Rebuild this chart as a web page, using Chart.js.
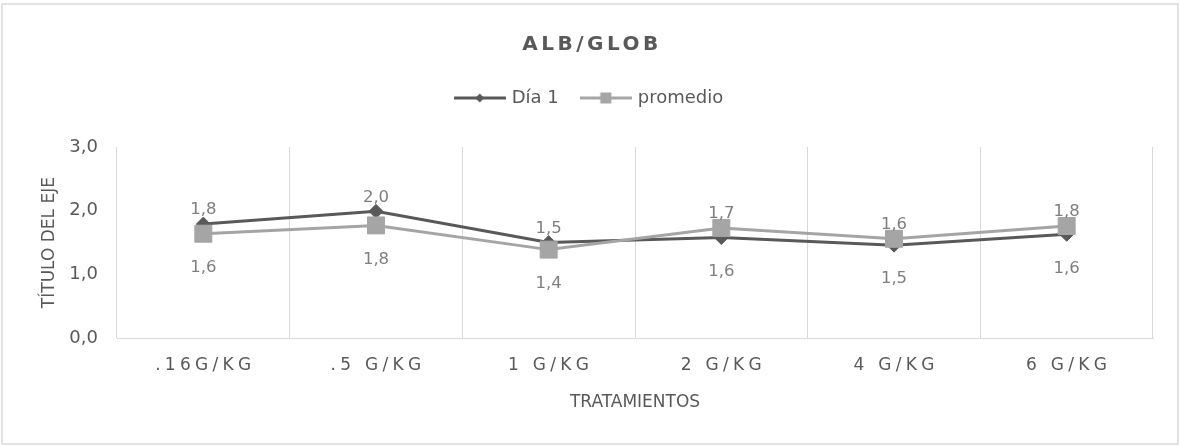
<!DOCTYPE html>
<html lang="es">
<head>
<meta charset="utf-8">
<title>ALB/GLOB</title>
<script src="https://cdn.jsdelivr.net/npm/chart.js@4.4.1/dist/chart.umd.min.js"></script>
<style>
  html, body { margin: 0; padding: 0; background: #ffffff; }
  #wrap { width: 1180px; height: 446px; position: relative; }
</style>
</head>
<body>
<div id="wrap"><canvas id="chart" width="1180" height="446"></canvas></div>
<script>
// Tratamientos (eje X)
const categories = ['.16G/KG', '.5 G/KG', '1 G/KG', '2 G/KG', '4 G/KG', '6 G/KG'];
// Relación albúmina/globulina
const dia1 = [1.79, 1.99, 1.50, 1.58, 1.46, 1.63];
const promedio = [1.64, 1.77, 1.39, 1.73, 1.56, 1.76];
const yTicks = [0, 1, 2, 3];

const FONT = '"DejaVu Sans", sans-serif';
const TEXT = '#595959';
const DARK = '#595959';
const LIGHT = '#a5a5a5';

const fmt = v => v.toFixed(1).replace('.', ',');

// Legend icons: a short line with the series marker in the middle
function legendIcon(color, shape) {
  const c = document.createElement('canvas');
  c.width = 52; c.height = 14;
  const g = c.getContext('2d');
  g.strokeStyle = color; g.fillStyle = color; g.lineWidth = 3;
  g.beginPath(); g.moveTo(0, 7); g.lineTo(52, 7); g.stroke();
  g.beginPath();
  if (shape === 'diamond') {
    g.moveTo(26, 2.5); g.lineTo(30.5, 7); g.lineTo(26, 11.5); g.lineTo(21.5, 7);
  } else {
    g.rect(20.5, 1.5, 11, 11);
  }
  g.closePath(); g.fill();
  return c;
}
const icons = [legendIcon(DARK, 'diamond'), legendIcon(LIGHT, 'square')];

const chartDecor = {
  id: 'chartDecor',
  beforeUpdate(chart) {
    const lg = chart.legend;
    if (lg && !lg._extraGap) {
      const fit = lg.fit;
      lg.fit = function () { fit.call(this); this.height += 30; };
      lg._extraGap = true;
    }
  },
  afterUpdate(chart) {
    const xs = chart.scales.x;
    if (xs && !xs._spaced) {
      const draw = xs.drawLabels;
      xs.drawLabels = function (area) {
        const c = this.ctx; c.save(); c.letterSpacing = '4.3px'; c.translate(2, 0);
        draw.call(this, area); c.restore();
      };
      xs._spaced = true;
    }
    const tb = chart.titleBlock;
    if (tb && !tb._spaced) {
      const draw = tb.draw;
      tb.draw = function () {
        const c = this.ctx; c.save(); c.letterSpacing = '3.5px'; c.translate(2, 0);
        draw.call(this); c.restore();
      };
      tb._spaced = true;
    }
  },
  beforeDraw(chart) {
    const c = chart.ctx;
    c.save();
    c.fillStyle = '#ffffff';
    c.fillRect(0, 0, chart.width, chart.height);
    c.strokeStyle = '#d9d9d9';
    c.lineWidth = 1.5;
    c.strokeRect(2, 4, 1176, 440);
    c.restore();
  },
  afterDatasetsDraw(chart) {
    const c = chart.ctx;
    const sets = chart.data.datasets;
    c.save();
    c.font = '16.5px ' + FONT;
    c.fillStyle = '#7f7f7f';
    c.textAlign = 'center';
    c.textBaseline = 'middle';
    sets.forEach((ds, i) => {
      const other = sets[1 - i];
      chart.getDatasetMeta(i).data.forEach((pt, j) => {
        const above = ds.data[j] >= other.data[j];
        c.fillText(fmt(ds.data[j]), pt.x, above ? pt.y - 14 : pt.y + 34);
      });
    });
    c.restore();
  }
};

new Chart(document.getElementById('chart'), {
  type: 'line',
  data: {
    labels: categories,
    datasets: [
      {
        label: 'Día 1',
        data: dia1,
        borderColor: DARK,
        backgroundColor: DARK,
        borderWidth: 3,
        pointStyle: 'rectRot',
        pointRadius: 7,
        pointBorderWidth: 1,
        tension: 0,
        order: 2
      },
      {
        label: 'promedio',
        data: promedio,
        borderColor: LIGHT,
        backgroundColor: LIGHT,
        borderWidth: 3,
        pointStyle: 'rect',
        pointRadius: 12,
        pointBorderWidth: 1,
        tension: 0,
        order: 1
      }
    ]
  },
  options: {
    responsive: false,
    animation: false,
    events: [],
    layout: { padding: { top: 4, left: 2, right: 2, bottom: 30 } },
    plugins: {
      tooltip: { enabled: false },
      title: {
        display: true,
        text: 'ALB/GLOB',
        color: TEXT,
        font: { family: FONT, size: 20, weight: 'bold' },
        padding: { top: 29, bottom: 8 }
      },
      legend: {
        display: true,
        position: 'top',
        labels: {
          usePointStyle: true,
          pointStyleWidth: 46,
          color: TEXT,
          font: { family: FONT, size: 18 },
          padding: 24,
          generateLabels(chart) {
            const items = Chart.defaults.plugins.legend.labels.generateLabels(chart);
            items.forEach(it => { it.pointStyle = icons[it.datasetIndex]; it.fontColor = TEXT; });
            return items.sort((a, b) => a.datasetIndex - b.datasetIndex);
          }
        }
      }
    },
    scales: {
      x: {
        offset: true,
        grid: { display: true, offset: true, color: '#d9d9d9', lineWidth: 1, drawTicks: false },
        border: { display: true, color: '#d9d9d9', width: 1 },
        ticks: { color: TEXT, font: { family: FONT, size: 17 }, padding: 17, maxRotation: 0, autoSkip: false },
        title: {
          display: true,
          text: 'TRATAMIENTOS',
          color: TEXT,
          font: { family: FONT, size: 17 },
          padding: { top: 0, bottom: 3 }
        }
      },
      y: {
        min: 0,
        max: 3,
        afterFit(scale) { scale.width = 115; },
        afterBuildTicks(scale) { scale.ticks = yTicks.map(v => ({ value: v })); },
        grid: { display: false, drawTicks: false },
        border: { display: false },
        ticks: {
          color: TEXT,
          font: { family: FONT, size: 18 },
          padding: 19,
          callback: v => fmt(v)
        },
        title: {
          display: true,
          text: 'TÍTULO DEL EJE',
          color: TEXT,
          font: { family: FONT, size: 17 },
          padding: { top: 37, bottom: 0 }
        }
      },
      // empty right-hand axis that only reserves the right margin of the plot
      yRight: {
        position: 'right',
        display: true,
        afterFit(scale) { scale.width = 25; },
        grid: { display: false, drawTicks: false },
        border: { display: false },
        ticks: { display: false }
      }
    }
  },
  plugins: [chartDecor]
});
</script>
</body>
</html>
